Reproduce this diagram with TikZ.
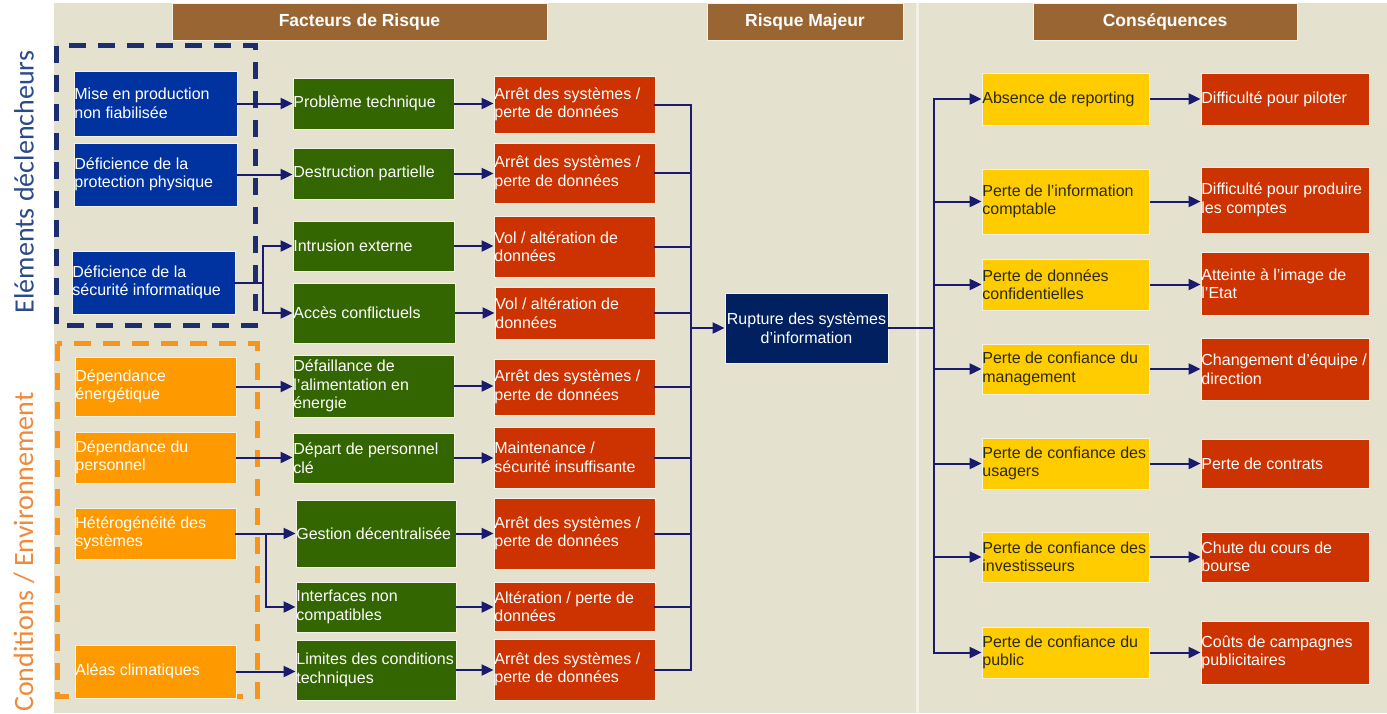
\documentclass[tikz,border=0pt]{standalone}
\usepackage{fontspec}
\setmainfont{Liberation Sans}
\newfontfamily\carl{Carlito}
\usetikzlibrary{arrows.meta}
\definecolor{beige}{HTML}{E4E2CE}
\definecolor{gapc}{HTML}{F3F1E6}
\definecolor{brownc}{HTML}{996633}
\definecolor{blueb}{HTML}{0033A0}
\definecolor{orangeb}{HTML}{FF9900}
\definecolor{greenb}{HTML}{336600}
\definecolor{redb}{HTML}{CC3300}
\definecolor{yellowb}{HTML}{FFCC00}
\definecolor{navyb}{HTML}{002060}
\definecolor{arrc}{HTML}{1A1A6E}
\definecolor{dashblue}{HTML}{1C2E6E}
\definecolor{dashorange}{HTML}{F7941D}
\definecolor{elemc}{HTML}{2B4A8B}
\definecolor{condc}{HTML}{F08A3A}
\definecolor{ytext}{HTML}{2B2B0A}
\definecolor{edgec}{HTML}{F4F2E6}
\newcommand{\boxfont}{\fontsize{16}{18.5}\selectfont}
\newcommand{\mybox}[8]{%
  \pgfmathsetmacro{\myCX}{(#4+#6)/2}%
  \pgfmathsetmacro{\myCY}{(#5+#7)/2}%
  \pgfmathsetmacro{\myW}{#6-#4}%
  \pgfmathsetmacro{\myH}{#7-#5}%
  \node[#2, minimum width=\myW pt, minimum height=\myH pt,
        label={[#3]west:{#8}}] (#1) at (\myCX,\myCY) {};%
}
\tikzset{
  base/.style={rectangle, draw=edgec, line width=0.8pt, inner sep=0pt},
  bluebox/.style={base, fill=blueb},
  orbox/.style={base, fill=orangeb},
  grbox/.style={base, fill=greenb},
  rdbox/.style={base, fill=redb},
  ylbox/.style={base, fill=yellowb},
  lbl/.style={anchor=west, align=left, inner sep=0.6pt, font=\boxfont, text=white},
  ylbl/.style={lbl, text=ytext},
  hdr/.style={rectangle, fill=brownc, draw=edgec, line width=0.8pt, text=white,
              font=\bfseries\fontsize{17.5}{20}\selectfont},
  conn/.style={draw=arrc, line width=2pt, line cap=rect},
  arr/.style={draw=arrc, line width=2pt, -{Triangle[length=12pt,width=11pt]}},
  dashbox/.style={line width=5pt, dash pattern=on 17pt off 12pt},
}
\begin{document}
\begin{tikzpicture}[x=1pt, y=-1pt]
\useasboundingbox (0,0) rectangle (1387,713);
\fill[white] (0,0) rectangle (1387,713);
\fill[beige] (54,3) rectangle (1387,713);
\draw[gapc, line width=2.5pt] (917.5,3) -- (917.5,713);

% headers
\node[hdr, minimum width=375pt, minimum height=37pt] (h1) at (359.5,21.5) {Facteurs de Risque};
\node[hdr, minimum width=196pt, minimum height=37pt] (h2) at (805,21.5) {Risque Majeur};
\node[hdr, minimum width=264pt, minimum height=37pt] (h3) at (1165,21.5) {Conséquences};

% vertical labels
\node[rotate=90, text=elemc, font=\carl\fontsize{28}{30}\selectfont] (elem) at (24,182) {Eléments déclencheurs};
\node[rotate=90, text=condc, font=\carl\fontsize{28}{30}\selectfont] (cond) at (24,552) {Conditions / Environnement};

% dashed groups
\draw[dashbox, dashblue] (56.5,45.5) rectangle (255.5,325);
\draw[dashbox, dashorange] (57,343.5) rectangle (257.5,696.5);

% trigger boxes
\mybox{mise}{bluebox}{lbl}{74}{71}{237}{136}{Mise en production\\non fiabilisée}
\mybox{prot}{bluebox}{lbl}{74}{143}{237}{206}{Déficience de la\\protection physique}
\mybox{secu}{bluebox}{lbl}{72}{251}{235}{314}{Déficience de la\\sécurité informatique}
\mybox{ener}{orbox}{lbl}{75}{357}{236}{416}{Dépendance\\énergétique}
\mybox{pers}{orbox}{lbl}{75}{432}{236}{483}{Dépendance du\\personnel}
\mybox{hete}{orbox}{lbl}{75}{508}{236}{559}{Hétérogénéité des\\systèmes}
\mybox{alea}{orbox}{lbl}{75}{645}{236}{698}{Aléas climatiques}

% risk factors
\mybox{prob}{grbox}{lbl}{293}{78}{454}{129}{Problème technique}
\mybox{dest}{grbox}{lbl}{293}{148}{454}{199}{Destruction partielle}
\mybox{intr}{grbox}{lbl}{293}{221}{454}{271}{Intrusion externe}
\mybox{acce}{grbox}{lbl}{293}{283}{455}{343}{Accès conflictuels}
\mybox{defa}{grbox}{lbl}{293}{355}{454}{417}{Défaillance de\\l'alimentation en\\énergie}
\mybox{depa}{grbox}{lbl}{293}{433}{454}{483}{Départ de personnel\\clé}
\mybox{gest}{grbox}{lbl}{296}{500}{456}{567}{Gestion décentralisée}
\mybox{inte}{grbox}{lbl}{296}{582}{456}{632}{Interfaces non\\compatibles}
\mybox{limi}{grbox}{lbl}{296}{640}{456}{700}{Limites des conditions\\techniques}

% effects
\mybox{ra}{rdbox}{lbl}{494}{76}{655}{133}{Arrêt des systèmes /\\perte de données}
\mybox{rb}{rdbox}{lbl}{494}{143}{655}{203}{Arrêt des systèmes /\\perte de données}
\mybox{rc}{rdbox}{lbl}{494}{216}{655}{277}{Vol / altération de\\données}
\mybox{rd}{rdbox}{lbl}{495}{287}{655}{339}{Vol / altération de\\données}
\mybox{re}{rdbox}{lbl}{494}{359}{655}{415}{Arrêt des systèmes /\\perte de données}
\mybox{rf}{rdbox}{lbl}{494}{427}{655}{488}{Maintenance /\\sécurité insuffisante}
\mybox{rg}{rdbox}{lbl}{494}{498}{655}{569}{Arrêt des systèmes /\\perte de données}
\mybox{rh}{rdbox}{lbl}{494}{582}{655}{631}{Altération / perte de\\données}
\mybox{ri}{rdbox}{lbl}{494}{639}{655}{700}{Arrêt des systèmes /\\perte de données}

% major risk
\node[base, fill=navyb, minimum width=163pt, minimum height=70pt, align=center,
      text=white, font=\boxfont] (rupt) at (806.5,328) {Rupture des systèmes\\d’information};

% consequences
\mybox{ya}{ylbox}{ylbl}{982}{73}{1149}{125}{Absence de reporting}
\mybox{yb}{ylbox}{ylbl}{982}{169}{1149}{234}{Perte de l’information\\comptable}
\mybox{yc}{ylbox}{ylbl}{982}{259}{1149}{310}{Perte de données\\confidentielles}
\mybox{yd}{ylbox}{ylbl}{982}{344}{1149}{394}{Perte de confiance du\\management}
\mybox{ye}{ylbox}{ylbl}{982}{438}{1149}{489}{Perte de confiance des\\usagers}
\mybox{yf}{ylbox}{ylbl}{982}{532}{1149}{582}{Perte de confiance des\\investisseurs}
\mybox{yg}{ylbox}{ylbl}{982}{627}{1149}{678}{Perte de confiance du\\public}

\mybox{ca}{rdbox}{lbl}{1201}{73}{1369}{125}{Difficulté pour piloter}
\mybox{cb}{rdbox}{lbl}{1201}{167}{1369}{233}{Difficulté pour produire\\les comptes}
\mybox{cc}{rdbox}{lbl}{1201}{252}{1369}{315}{Atteinte à l’image de\\l’Etat}
\mybox{cd}{rdbox}{lbl}{1201}{338}{1369}{400}{Changement d’équipe /\\direction}
\mybox{ce}{rdbox}{lbl}{1201}{439}{1369}{488}{Perte de contrats}
\mybox{cf}{rdbox}{lbl}{1201}{532}{1369}{582}{Chute du cours de\\bourse}
\mybox{cg}{rdbox}{lbl}{1201}{621}{1369}{684}{Coûts de campagnes\\publicitaires}

% trigger -> factor
\draw[arr] (mise.east) -- (mise.east -| prob.west);
\draw[arr] (prot.east) -- (prot.east -| dest.west);
\coordinate (bs) at (263,283);
\draw[conn] (secu.east) -- (secu.east -| bs);
\draw[arr] (secu.east -| bs) |- (intr.west);
\draw[arr] (secu.east -| bs) |- (acce.west);
\draw[arr] (ener.east) -- (ener.east -| defa.west);
\draw[arr] (pers.east) -- (pers.east -| depa.west);
\coordinate (bh) at (266,533);
\draw[conn] (hete.east) -- (hete.east -| bh);
\draw[arr] (hete.east -| bh) |- (gest.west);
\draw[arr] (hete.east -| bh) |- (inte.west);
\draw[arr] (alea.east) -- (alea.east -| limi.west);

% factor -> effect
\foreach \g/\r in {prob/ra, dest/rb, intr/rc, acce/rd, defa/re, depa/rf, gest/rg, inte/rh, limi/ri}
  \draw[arr] (\g.east) -- (\g.east -| \r.west);

% effects -> major risk
\coordinate (col) at (691,328);
\foreach \r in {ra, rb, rc, rd, re, rf, rg, rh, ri}
  \draw[conn] (\r.east) -- (\r.east -| col);
\draw[conn] (ra.east -| col) -- (ri.east -| col);
\draw[arr] (col |- rupt.west) -- (rupt.west);

% major risk -> consequences
\coordinate (dist) at (934,328);
\draw[conn] (rupt.east) -- (rupt.east -| dist);
\draw[conn] (ya.west -| dist) -- (yg.west -| dist);
\foreach \y in {ya, yb, yc, yd, ye, yf, yg}
  \draw[arr] (\y.west -| dist) -- (\y.west);
\foreach \y/\c in {ya/ca, yb/cb, yc/cc, yd/cd, ye/ce, yf/cf, yg/cg}
  \draw[arr] ([xshift=1pt]\y.east) -- (\y.east -| \c.west);
\end{tikzpicture}
\end{document}
